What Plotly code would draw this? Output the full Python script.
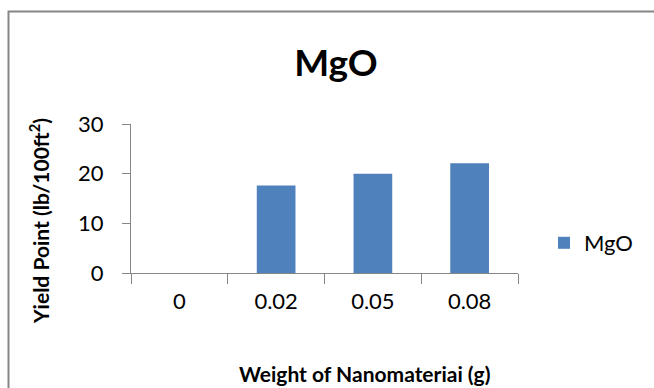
import plotly.graph_objects as go

categories = ["0", "0.02", "0.05", "0.08"]
yield_point = [0, 17.6, 20.0, 22.1]
series_name = "MgO"
y_ticks = [0, 10, 20, 30]

FONT = "Lato"
AXIS_COLOR = "#868686"

fig = go.Figure()
fig.add_trace(go.Bar(
    x=categories, y=yield_point, name=series_name,
    marker=dict(color="#4F81BD", line=dict(width=0)),
    showlegend=True,
))

W, H = 654, 388
L, R, T, B = 131, 518, 124, 273  # plot area pixel box
pw, ph = R - L, B - T

def px_x(p):
    return (p - L) / pw

def px_y(p):
    return (B - p) / ph

fig.update_layout(
    width=W, height=H,
    margin=dict(l=L, r=W - R, t=T, b=H - B, autoexpand=False),
    paper_bgcolor="white", plot_bgcolor="white",
    font=dict(family=FONT, color="#000000"),
    bargap=0.6,
    title=dict(text="<b>MgO</b>", x=336 / W, xanchor="center",
               y=1 - 63 / H, yanchor="middle", yref="container",
               font=dict(size=37, family=FONT, color="#000000")),
    xaxis=dict(
        type="category", showgrid=False, showline=True, linecolor=AXIS_COLOR, linewidth=1,
        ticks="outside", tickson="boundaries", ticklen=10, tickcolor=AXIS_COLOR,
        tickfont=dict(size=22, family=FONT, color="#000000"),
        ticklabelstandoff=9, zeroline=False,
    ),
    yaxis=dict(
        range=[0, 30], tickvals=y_ticks, showgrid=False, showline=True,
        linecolor=AXIS_COLOR, linewidth=1, ticks="outside", ticklen=8,
        tickcolor=AXIS_COLOR, tickfont=dict(size=22, family=FONT, color="#000000"),
        ticklabelstandoff=14, zeroline=False,
    ),
    legend=dict(
        x=px_x(544), y=px_y(243), xanchor="left", yanchor="middle",
        font=dict(size=22, family=FONT, color="#000000"),
        bgcolor="rgba(0,0,0,0)", itemwidth=30,
    ),
    annotations=[
        dict(text="<b>Yield Point (lb/100ft<sup>2</sup>)</b>", xref="paper", yref="paper",
             x=px_x(39), y=px_y(221), xanchor="center", yanchor="middle",
             textangle=-90, showarrow=False,
             font=dict(size=21, family=FONT, color="#000000")),
        dict(text="<b>Weight of Nanomateriai (g)</b>", xref="paper", yref="paper",
             x=px_x(364), y=px_y(373), xanchor="center", yanchor="middle",
             showarrow=False, font=dict(size=21, family=FONT, color="#000000")),
    ],
    shapes=[
        dict(type="rect", xref="paper", yref="paper",
             x0=px_x(8.5), x1=px_x(700), y0=px_y(440), y1=px_y(11.5),
             line=dict(color="#868686", width=2), fillcolor="rgba(0,0,0,0)", layer="below"),
    ],
)

fig.write_html("out.html")
